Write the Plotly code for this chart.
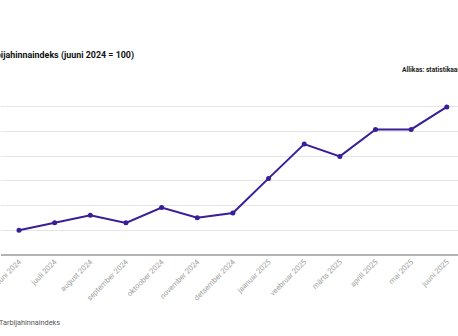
import plotly.graph_objects as go

months = ["juuni 2024", "juuli 2024", "august 2024", "september 2024", "oktoober 2024",
          "november 2024", "detsember 2024", "jaanuar 2025", "veebruar 2025", "märts 2025",
          "aprill 2025", "mai 2025", "juuni 2025"]
index_values = [100.0, 100.30, 100.61, 100.30, 100.92, 100.51, 100.70,
                102.10, 103.49, 102.99, 104.08, 104.08, 104.99]
series_name = "Tarbijahinnaindeks"
title_text = "Tarbijahinnaindeks (juuni 2024 = 100)"
source_text = "Allikas: statistikaamet"

W, H = 458, 336
ML, MR, MT, MB = 1, 0, 82, 81
pw = W - ML - MR
ph = H - MT - MB

def px_x(p):
    return (p - ML) / pw

def px_y(p):
    return (H - MB - p) / ph

line_color = "#3a1d98"

fig = go.Figure()
fig.add_trace(go.Scatter(
    x=months, y=index_values, mode="lines+markers", name=series_name,
    line=dict(color=line_color, width=2),
    marker=dict(color=line_color, size=5),
    showlegend=False,
))

fig.update_layout(
    width=W, height=H,
    margin=dict(l=ML, r=MR, t=MT, b=MB, pad=0, autoexpand=False),
    paper_bgcolor="white", plot_bgcolor="white",
    font=dict(family="Roboto", color="#333"),
    xaxis=dict(
        type="category", range=[-0.505, 12.314], automargin=False,
        tickangle=-45, tickfont=dict(size=7.5, color="#a0a0a0"),
        showgrid=False, zeroline=False, showline=False, ticks="",
        fixedrange=True,
    ),
    yaxis=dict(
        range=[99, 106], dtick=1, showgrid=True, gridcolor="#e5e5e5", gridwidth=1,
        showticklabels=False, zeroline=False, showline=False, ticks="",
        automargin=False, fixedrange=True,
    ),
    annotations=[
        dict(text="<b>" + title_text + "</b>", xref="paper", yref="paper",
             x=px_x(-19.5), y=px_y(56), xanchor="left", yanchor="middle",
             showarrow=False, font=dict(size=8.9, color="#111", family="Roboto")),
        dict(text="<b>" + source_text + "</b>", xref="paper", yref="paper",
             x=px_x(399.6), y=px_y(70), xanchor="left", yanchor="middle",
             showarrow=False, font=dict(size=6.7, color="#222", family="Roboto")),
        dict(text=series_name, xref="paper", yref="paper",
             x=px_x(-3.5), y=px_y(322), xanchor="left", yanchor="middle",
             showarrow=False, font=dict(size=7.3, color="#555", family="Roboto")),
    ],
    shapes=[
        dict(type="line", xref="paper", yref="paper", x0=0, x1=1, y0=0, y1=0,
             line=dict(color="#9a9a9a", width=1.5)),
    ],
)

fig.write_html("out.html")
